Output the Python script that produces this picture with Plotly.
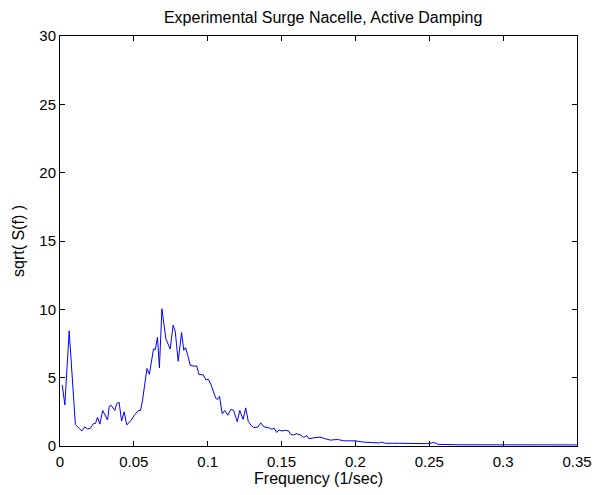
import plotly.graph_objects as go

freq = [0.0015, 0.0033, 0.0062, 0.0104, 0.0110, 0.0148, 0.0168, 0.0185, 0.0205, 0.0227,
        0.0240, 0.0254, 0.0270, 0.0289, 0.0322, 0.0333, 0.0346, 0.0371, 0.0384, 0.0400,
        0.0417, 0.0434, 0.0452, 0.0480, 0.0507, 0.0530, 0.0545, 0.0558, 0.0573, 0.0589,
        0.0605, 0.0622, 0.0633, 0.0645, 0.0660, 0.0673, 0.0690, 0.0717, 0.0728, 0.0746,
        0.0766, 0.0780, 0.0800, 0.0823, 0.0838, 0.0850, 0.0865, 0.0882, 0.0905, 0.0926,
        0.0940, 0.0970, 0.0988, 0.1005, 0.1023, 0.1037, 0.1054, 0.1066, 0.1080, 0.1098,
        0.1115, 0.1136, 0.1156, 0.1175, 0.1200, 0.1217, 0.1240, 0.1257, 0.1275, 0.1297,
        0.1313, 0.1340, 0.1359, 0.1380, 0.1410, 0.1434, 0.1450, 0.1467, 0.1483, 0.1500,
        0.1526, 0.1548, 0.1560, 0.1580, 0.1600, 0.1630, 0.1650, 0.1670, 0.1685, 0.1720,
        0.1760, 0.1790, 0.1830, 0.1880, 0.1920, 0.1960, 0.2000, 0.2050, 0.2110, 0.2160,
        0.2170, 0.2206, 0.2300, 0.2400, 0.2490, 0.2530, 0.2560, 0.2700, 0.2900, 0.3100,
        0.3300, 0.3500]
amp = [4.47, 3.00, 8.43, 1.59, 1.50, 1.10, 1.40, 1.25, 1.30, 1.64,
       1.64, 2.10, 1.60, 2.60, 1.90, 2.90, 2.98, 2.60, 3.10, 3.20,
       1.83, 2.50, 1.54, 1.87, 2.30, 2.60, 2.60, 3.27, 4.47, 5.67,
       5.25, 6.50, 7.10, 7.05, 7.95, 5.72, 10.04, 7.83, 7.50, 7.10,
       8.84, 8.40, 6.20, 8.30, 7.00, 7.20, 6.63, 5.90, 5.85, 5.85,
       5.24, 5.20, 4.83, 4.88, 4.47, 4.00, 3.50, 3.40, 3.63, 2.36,
       2.60, 2.26, 2.67, 2.62, 1.78, 2.60, 1.95, 2.79, 1.78, 1.47,
       1.35, 1.38, 1.70, 1.40, 1.35, 1.23, 1.30, 0.99, 1.18, 1.10,
       1.15, 1.10, 0.87, 0.80, 0.90, 0.80, 0.62, 0.77, 0.53, 0.60,
       0.65, 0.55, 0.43, 0.48, 0.38, 0.38, 0.38, 0.29, 0.26, 0.22,
       0.28, 0.20, 0.20, 0.20, 0.17, 0.26, 0.12, 0.09, 0.09, 0.08,
       0.08, 0.08]

xticks = [0, 0.05, 0.1, 0.15, 0.2, 0.25, 0.3, 0.35]
xticklabels = ["0", "0.05", "0.1", "0.15", "0.2", "0.25", "0.3", "0.35"]
yticks = [0, 5, 10, 15, 20, 25, 30]

FONT = "Liberation Sans, Arial"

fig = go.Figure()
fig.add_trace(go.Scatter(x=freq, y=amp, mode="lines",
                         line=dict(color="#0000FF", width=1), showlegend=False))

axis_common = dict(showgrid=False, zeroline=False, showline=True, linecolor="black",
                   linewidth=1, mirror="allticks", ticks="inside", ticklen=5,
                   tickcolor="black", tickfont=dict(family=FONT, size=15, color="black"))

fig.update_layout(
    width=604, height=495,
    margin=dict(l=60, r=15, t=36, b=43),
    paper_bgcolor="white", plot_bgcolor="white",
    font=dict(family=FONT, size=15, color="black"),
    title=dict(text="Experimental Surge Nacelle, Active Damping", x=0.535, xanchor="center",
               y=0.965, yanchor="middle", font=dict(size=16, color="black")),
    xaxis=dict(range=[0, 0.35], tickvals=xticks, ticktext=xticklabels, ticklabelstandoff=2,
               title=dict(text="Frequency (1/sec)", standoff=2, font=dict(size=16)), **axis_common),
    yaxis=dict(range=[0, 30], tickvals=yticks,
               title=dict(text="sqrt( S(f) )", standoff=10, font=dict(size=16)), **axis_common),
)

fig.write_html("out.html")
